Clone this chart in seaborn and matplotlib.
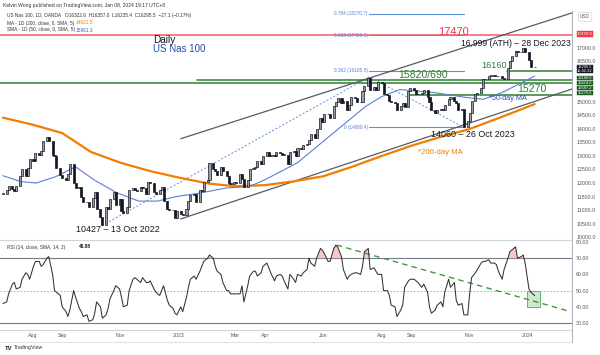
import matplotlib
matplotlib.use("Agg")
import matplotlib.pyplot as plt
import matplotlib.dates as mdates
from matplotlib.lines import Line2D
from matplotlib.patches import Rectangle
import numpy as np
import pandas as pd
import seaborn as sns

# ---------------- data ----------------
last_date = "2024-01-08"
closes = [
    11600, 11750, 11900, 11780, 11700, 11900, 12250, 12500, 12250, 12550, 12900,
    12800, 13100, 13050, 13200, 13550, 13700, 13550, 13050, 13000, 12550, 12300,
    12200, 12100, 12350, 12700, 12000, 11800, 11850, 11500, 11300, 11300, 11100,
    11450, 11650, 11050, 10750, 10450, 11100, 11050, 11400, 11650, 11200, 11400,
    10950, 10900, 11100, 11750, 11800, 11750, 11700, 11850, 11800, 11600, 12050,
    12000, 11650, 11600, 11750, 11850, 11350, 11050, 11000, 11000, 10700, 10950,
    10850, 10800, 11050, 11350, 11550, 11600, 11300, 11750, 11700, 12050, 12100,
    12750, 12500, 12450, 12300, 12600, 12450, 12250, 12000, 11950, 12050,
    12000, 12350, 12150, 11850, 12100, 12500, 12550, 12600, 12800, 12700, 13000,
    13150, 13000, 13050, 13000, 13150, 13100, 13050, 13050, 12700, 13150,
    13200, 13000, 13300, 13250, 13400, 13450, 13600, 13800, 13650, 14000, 14400, 14250,
    14550, 14550, 14400, 14850, 15000, 15150, 14950, 15050, 14700, 14900, 15200,
    15150, 15000, 15000, 15400, 15600, 15900, 15450, 15550, 15450, 15750,
    15700, 15300, 15250, 15050, 15000, 14950, 14700, 14850, 14950, 14800, 15400, 15500,
    15450, 15300, 15300, 15350, 15450, 15200, 15000, 14700, 14600, 14700,
    14750, 14700, 14900, 15100, 15200, 15050, 14950, 14700, 14750, 14080, 14300,
    14600, 15050, 15300, 15350, 15500, 15850, 15850, 15950, 16000, 15950, 15950,
    15950, 15900, 15850, 16250, 16500, 16700, 16900, 16850, 16850, 17000, 16850,
    16550, 16300, 16295.5,
]
rsi_values = [
    42, 43, 48, 54, 55, 51, 52, 57, 61, 60, 57,
    65, 68, 68, 65, 66, 70, 71, 60, 50, 49, 47,
    40, 37, 34, 38, 50, 46, 39, 37, 34, 35, 31,
    32, 36, 43, 40, 33, 35, 39, 45, 50, 53, 51,
    46, 40, 41, 50, 57, 58, 57, 55, 58, 55, 55,
    56, 51, 49, 47, 50, 53, 44, 41, 39, 36, 35,
    40, 37, 46, 52, 57, 59, 57, 62, 65, 68, 70,
    72, 70, 65, 62, 60, 55, 50, 50, 48, 48, 48,
    48, 53, 43, 53, 59, 62, 62, 59, 61, 65, 67,
    64, 61, 56, 59, 60, 59, 56, 51, 60, 57, 55,
    60, 59, 61, 63, 70, 67, 65, 70, 76, 75, 73,
    68, 68, 76, 78, 77, 71, 63, 57, 59, 60, 61,
    61, 60, 65, 74, 76, 63, 64, 62, 60, 60, 50,
    50, 47, 41, 40, 34, 38, 41, 52, 56, 57, 57,
    56, 55, 52, 54, 49, 40, 36, 38, 41, 43, 40,
    49, 57, 52, 55, 44, 41, 42, 35, 35, 48, 58,
    61, 63, 67, 68, 68, 69, 67, 67, 66, 62, 57,
    63, 70, 74, 75, 77, 70, 71, 72, 67, 51, 49,
    46.88,
]
ma200_dates = ["2022-07-01", "2022-08-01", "2022-09-01", "2022-10-01", "2022-11-01",
               "2022-12-01", "2023-01-01", "2023-02-01", "2023-03-01", "2023-04-01",
               "2023-05-01", "2023-06-01", "2023-07-01", "2023-08-01", "2023-09-01",
               "2023-10-01", "2023-11-01", "2023-12-01", "2024-01-08"]
ma200_values = [14420, 14160, 13850, 13150, 12750, 12450, 12200, 11980, 11880, 11920,
                12060, 12250, 12600, 13000, 13380, 13700, 14000, 14400, 14921.5]
ma50_dates = ["2022-07-01", "2022-07-20", "2022-08-05", "2022-08-25", "2022-09-15",
              "2022-10-05", "2022-10-28", "2022-11-20", "2022-12-10", "2022-12-28",
              "2023-01-25", "2023-02-20", "2023-03-15", "2023-04-01", "2023-05-05",
              "2023-06-07", "2023-07-15", "2023-08-01", "2023-08-20", "2023-09-25",
              "2023-10-28", "2023-11-15", "2023-12-05", "2024-01-08"]
ma50_values = [12270, 12050, 12000, 12230, 12600, 12100, 11640, 11330, 11330, 11490,
               11640, 11820, 11860, 12120, 12750, 13720, 14830, 15200, 15460, 15350,
               15170, 15100, 15350, 15961.3]

month_ticks = ["2022-08-01", "2022-09-01", "2022-11-01", "2023-01-01", "2023-03-01",
               "2023-04-01", "2023-06-01", "2023-08-01", "2023-09-01", "2023-11-01",
               "2024-01-01"]
month_labels = ["Aug", "Sep", "Nov", "2023", "Mar", "Apr", "Jun", "Aug", "Sep", "Nov", "2024"]
price_ticks = [10000, 10500, 11000, 11500, 12000, 12500, 13000, 13500, 14000, 14500,
               15000, 15500, 16000, 16500, 17000]
hidden_ticks = [15500, 16000]          # covered by the value boxes in the reference
rsi_ticks = [30, 40, 50, 60, 70, 80]

resistance = 17470.0
green_levels = [16160.0, 15824.0, 15687.2, 15270.0]
green_starts = ["2023-12-10", "2023-01-20", "2022-06-28", "2023-08-30"]
fib_ratios = ["0.764", "0.618", "0.382", "0"]
fib_prices = [18270.7, 17466.1, 16165.5, 14060.4]
fib_span = ["2023-07-19", "2023-10-26"]
swing_dates = ["2022-10-13", "2023-07-19", "2023-10-26"]
swing_prices = [10427, 15930, 14060]
upper_channel = (["2023-01-03", "2024-02-16"], [13640, 18300])
lower_channel = (["2023-01-03", "2024-02-16"], [10670, 15480])
rsi_trend = (["2023-06-15", "2024-02-14"], [78.1, 37.1])
rsi_box = (["2023-12-31", "2024-01-14"], [40, 50])

# ---------------- style ----------------
sns.set_theme(style="white")
plt.rcParams["font.family"] = ["Liberation Sans", "DejaVu Sans"]

W, H = 600, 355
fig = plt.figure(figsize=(6, 3.55), dpi=100)
fig.patch.set_facecolor("white")

def fpos(x, y):
    return x / W, 1 - y / H

ax = fig.add_axes([0, 1 - 240 / H, 572 / W, 229 / H])
ax2 = fig.add_axes([0, 1 - 330 / H, 572 / W, 90 / H], sharex=ax)

dates = pd.date_range(end=last_date, periods=len(closes), freq="2B")
df = pd.DataFrame({"date": dates, "close": closes, "rsi": rsi_values})
df["open"] = df["close"].shift(1).fillna(df["close"])
df["lo"] = np.minimum(df["open"], df["close"])
df["hi"] = np.maximum(df["open"], df["close"])
df["h"] = np.maximum(df["hi"] - df["lo"], 12)
up = df["close"] >= df["open"]

# candles
ax.bar(df.loc[up, "date"], df.loc[up, "h"], bottom=df.loc[up, "lo"], width=2.2,
       color="#9a9da6", edgecolor="#131722", linewidth=0.5, zorder=3)
ax.bar(df.loc[~up, "date"], df.loc[~up, "h"], bottom=df.loc[~up, "lo"], width=2.2,
       color="#131722", edgecolor="#131722", linewidth=0.5, zorder=3)

# moving averages
sns.lineplot(x=pd.to_datetime(ma200_dates), y=ma200_values, ax=ax, color="#f57c00",
             linewidth=1.6, zorder=2)
sns.lineplot(x=pd.to_datetime(ma50_dates), y=ma50_values, ax=ax, color="#5b7fd6",
             linewidth=0.8, zorder=2)

x0 = pd.Timestamp("2022-06-28")
x1 = pd.Timestamp("2024-02-16")
ax.set_xlim(x0, x1)
ax.set_ylim(9889, 18370)

# resistance / support lines
ax.axhline(resistance, color="#f77c86", linewidth=1.4, zorder=1)
for lvl, st in zip(green_levels, green_starts):
    ax.plot([pd.Timestamp(st), x1], [lvl, lvl], color="#2e7d32", linewidth=1.1, zorder=1)

# fib levels
for p in fib_prices:
    ax.plot(pd.to_datetime(fib_span), [p, p], color="#5b8fd6", linewidth=0.8, zorder=1)
ax.plot(pd.to_datetime(swing_dates), swing_prices, color="#5b8fd6", linewidth=0.7,
        linestyle=(0, (2, 2)), zorder=1)

# channel
ax.plot(pd.to_datetime(upper_channel[0]), upper_channel[1], color="#555a66", linewidth=0.9, zorder=1)
ax.plot(pd.to_datetime(lower_channel[0]), lower_channel[1], color="#555a66", linewidth=0.9, zorder=1)

ax.set_xlabel(""); ax.set_ylabel("")
ax.yaxis.tick_right()
ax.set_yticks(price_ticks)
ax.set_yticklabels(["" if v in hidden_ticks else f"{v:.1f}" for v in price_ticks],
                   fontsize=3.8, color="#555")
ax.tick_params(axis="y", length=0, pad=3)
ax.tick_params(axis="x", bottom=False, labelbottom=False)
for s in ["left", "top", "bottom"]:
    ax.spines[s].set_visible(False)
ax.spines["right"].set_color("#b2b5be")
ax.spines["right"].set_linewidth(0.8)

# ---------------- RSI ----------------
sns.lineplot(data=df, x="date", y="rsi", ax=ax2, color="#333333", linewidth=0.75, zorder=3)
rsi_arr = df["rsi"].to_numpy(dtype=float)
ax2.fill_between(df["date"], rsi_arr, 70, where=rsi_arr > 70, interpolate=True,
                 color="#f6b9bd", alpha=0.8, zorder=2, linewidth=0)
ax2.axhline(70, color="#787b86", linewidth=0.8, zorder=1)
ax2.axhline(30, color="#787b86", linewidth=0.8, zorder=1)
ax2.axhline(50, color="#aaaaaa", linewidth=0.6, linestyle=(0, (2, 2)), zorder=1)
ax2.plot(pd.to_datetime(rsi_trend[0]), rsi_trend[1], color="#3f9a3f", linewidth=1.0,
         linestyle=(0, (4, 3)), zorder=2)
bx = mdates.date2num(pd.to_datetime(rsi_box[0]))
ax2.add_patch(Rectangle((bx[0], rsi_box[1][0]), bx[1] - bx[0], rsi_box[1][1] - rsi_box[1][0],
                        facecolor="#cfe8cf", edgecolor="#4caf50", linewidth=0.6, zorder=1))
ax2.set_ylim(25.68, 81.23)
ax2.set_xlim(x0, x1)
ax2.set_xlabel(""); ax2.set_ylabel("")
ax2.yaxis.tick_right()
ax2.set_yticks(rsi_ticks)
ax2.set_yticklabels([f"{v:.2f}" for v in rsi_ticks], fontsize=3.8, color="#555")
ax2.tick_params(axis="y", length=0, pad=3)
ax2.set_xticks(pd.to_datetime(month_ticks))
ax2.set_xticklabels(month_labels, fontsize=3.8, color="#555")
ax2.tick_params(axis="x", length=0, pad=2.5)
ax2.spines["left"].set_visible(False)
for s in ["top", "bottom"]:
    ax2.spines[s].set_color("#d1d4dc")
    ax2.spines[s].set_linewidth(0.8)
ax2.spines["right"].set_color("#b2b5be")
ax2.spines["right"].set_linewidth(0.8)

# frame lines below the axes
fig.add_artist(Line2D([0, 572 / W], [1 - 342 / H] * 2, color="#e0e3eb", linewidth=0.8))
fig.add_artist(Line2D([572 / W] * 2, [1 - 330 / H, 1 - 342 / H], color="#b2b5be", linewidth=0.8))

# ---------------- texts ----------------
def ftext(x, y, s, **kw):
    fig.text(*fpos(x, y), s, **kw)

ftext(3, 5, "Kelvin Wong published on TradingView.com, Jan 08, 2024 19:17 UTC+8",
      fontsize=3.6, color="#333", ha="left", va="center")
ftext(7, 16, "US Nas 100, 1D, OANDA   O16322.6  H16357.0  L16235.4  C16295.5  \u221227.1 (\u22120.17%)",
      fontsize=3.4, color="#333", ha="left", va="center")
ftext(7, 23, "MA - 1D (200, close, 0, SMA, 5)", fontsize=3.4, color="#333", ha="left", va="center")
ftext(76, 23, "14921.5", fontsize=3.4, color="#f57c00", ha="left", va="center")
ftext(7, 30, "SMA - 1D (50, close, 0, SMA, 5)", fontsize=3.4, color="#333", ha="left", va="center")
ftext(76, 30, "15961.3", fontsize=3.4, color="#3f63c8", ha="left", va="center")

ftext(153, 40, "Daily", fontsize=7.2, color="#131722", ha="left", va="center")
ftext(153, 49, "US Nas 100", fontsize=7.0, color="#2848b8", ha="left", va="center")

ftext(453, 32, "17470", fontsize=8, color="#f23645", ha="center", va="center")
for r, p in zip(fib_ratios, fib_prices):
    yy = 237 - (p - 10000) * 0.0270
    ftext(368, yy, f"{r} ({p:.1f})", fontsize=3.4, color="#5b7fd6", ha="right", va="center")
ftext(571, 43, "16,999 (ATH) \u2013 28 Dec 2023", fontsize=6.2, color="#131722", ha="right", va="center")
ftext(494, 66, "16160", fontsize=6.6, color="#2e7d32", ha="center", va="center")
ftext(423, 75, "15820/690", fontsize=7.6, color="#2e7d32", ha="center", va="center")
ftext(532, 89, "15270", fontsize=7.6, color="#2e7d32", ha="center", va="center")
ftext(508, 98, "*50-day MA", fontsize=5.2, color="#2848b8", ha="center", va="center")
ftext(473, 135, "14060 \u2013 26 Oct 2023", fontsize=6.4, color="#131722", ha="center", va="center")
ftext(440, 153, "*200-day MA", fontsize=5.6, color="#f57c00", ha="center", va="center")
ftext(118, 230, "10427 \u2013 13 Oct 2022", fontsize=6.4, color="#131722", ha="center", va="center")

ftext(7, 247, "RSI (14, close, SMA, 14, 2)", fontsize=3.4, color="#333", ha="left", va="center")
ftext(79, 247, "46.88", fontsize=3.4, color="#131722", ha="left", va="center", fontweight="bold")
ftext(5, 348, "TV", fontsize=4.2, color="#131722", ha="left", va="center", fontweight="bold")
ftext(14, 348, "TradingView", fontsize=3.8, color="#333", ha="left", va="center")

# right-axis value boxes
def box(y, s, fc, tc="white", fs=2.9):
    ftext(585, y, s, fontsize=fs, color=tc, ha="center", va="center", linespacing=1.0,
          bbox=dict(boxstyle="square,pad=0.12", facecolor=fc, edgecolor=fc, linewidth=0.3))

ftext(585, 17, "USD", fontsize=3.3, color="#555", ha="center", va="center",
      bbox=dict(boxstyle="round,pad=0.4", facecolor="white", edgecolor="#d1d4dc", linewidth=0.5))
box(34, "17470.0", "#f23645", fs=3.2)
box(69, "16295.5\n10:42:32", "#131722")
box(78, "16160.0", "#1b5e20")
box(83, "15824.0", "#1b5e20")
box(88, "15687.2", "#1b5e20")
box(93, "15270.0", "#1b5e20")

fig.savefig("out.png", dpi=100, facecolor="white")
